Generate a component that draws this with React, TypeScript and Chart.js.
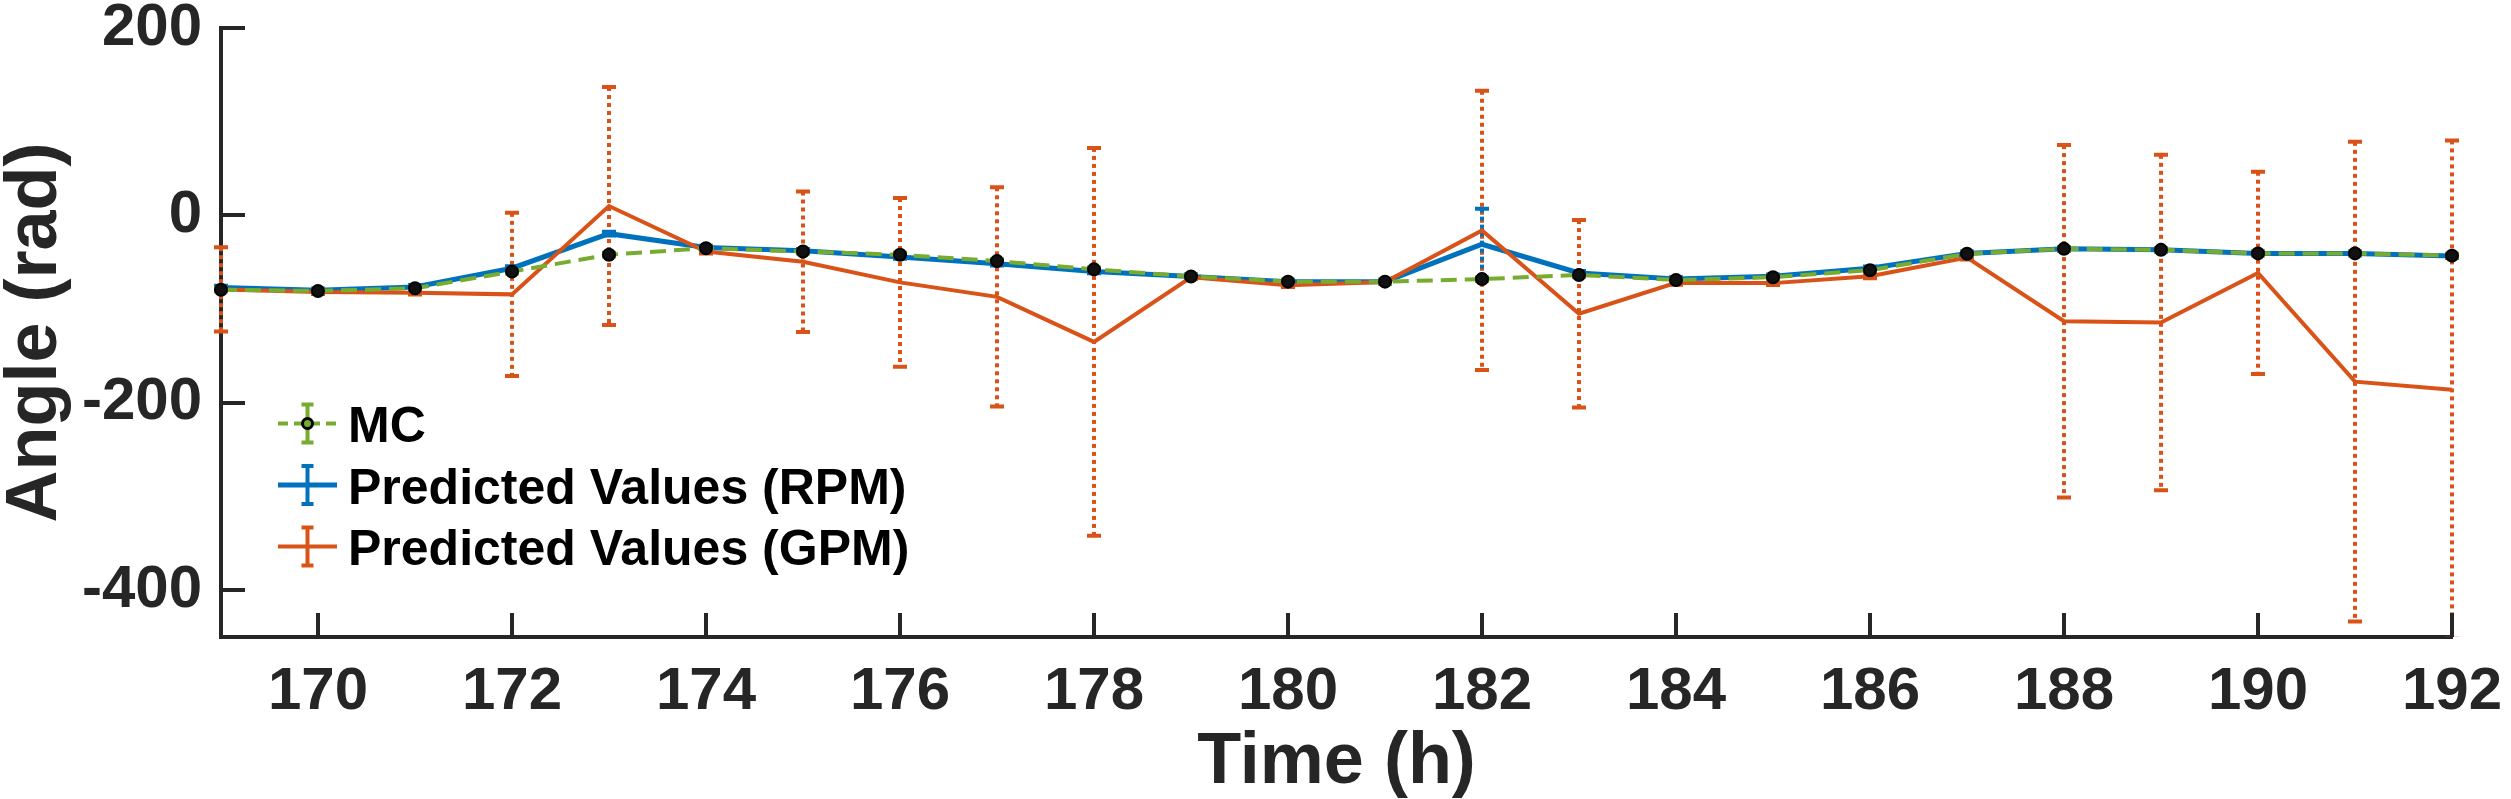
import React, { useEffect, useRef } from "react";
import { Chart, registerables } from "chart.js";

Chart.register(...registerables);

// ---- data ----
const hours = [169, 170, 171, 172, 173, 174, 175, 176, 177, 178, 179, 180, 181, 182, 183, 184, 185, 186, 187, 188, 189, 190, 191, 192];

const mcValues = [-79.3, -80.7, -77.8, -60, -42, -35, -38.6, -42, -48.8, -57.6, -65.2, -70.7, -70.7, -68, -63.6, -69, -66, -58.5, -41, -35.7, -36.8, -40.6, -40.6, -43];
const mcErrors = [2, 2, 2, 2, 2, 2, 2, 2, 2, 2, 2, 2, 2, 2, 2, 2, 2, 2, 2, 2, 2, 2, 2, 2];

const rpmValues = [-77, -80, -76.4, -56.4, -19.5, -34.3, -37.8, -44.4, -51.5, -59.8, -65.2, -70.7, -70.7, -30.8, -61.4, -68, -65, -56.5, -40.6, -35.7, -36.8, -40.6, -40.6, -43.4];
const rpmErrors = [2, 2, 2, 2, 2, 2, 2, 2, 2, 2, 2, 2, 2, 38, 2, 2, 2, 2, 2, 2, 2, 2, 2, 2];

const gpmValues = [-79, -81.8, -82.5, -84.3, 10, -38.6, -49.5, -71.5, -87, -135, -66, -74.5, -71, -16, -105, -72, -72.3, -65, -45, -113, -114.4, -61.4, -177.5, -186];
const gpmErrors = [45, 2, 2, 87, 127, 2, 75, 90, 117, 207, 2, 2, 2, 149, 100, 2, 2, 2, 2, 188, 179, 108, 256, 266];

const xTickValues = [170, 172, 174, 176, 178, 180, 182, 184, 186, 188, 190, 192];
const yTickValues = [-400, -200, 0, 200];
const legendLabels = ["MC", "Predicted Values (RPM)", "Predicted Values (GPM)"];

const BLUE = "#0072BD";
const ORANGE = "#D95319";
const GREEN = "#77AC30";
const AXIS = "#262626";
const FONT = "'Liberation Sans', Arial, Helvetica, sans-serif";

const errorBarPlugin = {
  id: "errorBars",
  beforeDatasetsDraw(chart: any) {
    const { ctx, chartArea, scales } = chart;
    const xs = scales.x;
    const ys = scales.y;
    ctx.save();
    ctx.beginPath();
    ctx.rect(chartArea.left - 12, chartArea.top - 2, chartArea.right - chartArea.left + 24, chartArea.bottom - chartArea.top + 2);
    ctx.clip();
    const order = [2, 1, 0];
    for (const di of order) {
      const ds: any = chart.data.datasets[di];
      const errs: number[] = ds.errorValues;
      const vals: number[] = ds.rawValues;
      if (!errs) continue;
      for (let i = 0; i < hours.length; i++) {
        const e = errs[i];
        if (!e) continue;
        const x = xs.getPixelForValue(hours[i]);
        const yt = ys.getPixelForValue(vals[i] + e);
        const yb = ys.getPixelForValue(vals[i] - e);
        ctx.strokeStyle = ds.borderColor;
        ctx.lineWidth = 4;
        ctx.setLineDash(ds.errorDash);
        ctx.beginPath();
        ctx.moveTo(x, yt);
        ctx.lineTo(x, yb);
        ctx.stroke();
        ctx.setLineDash([]);
        ctx.lineWidth = 4;
        ctx.beginPath();
        ctx.moveTo(x - 7, yt);
        ctx.lineTo(x + 7, yt);
        ctx.moveTo(x - 7, yb);
        ctx.lineTo(x + 7, yb);
        ctx.stroke();
      }
    }
    ctx.restore();
  },
};

const inwardTicksPlugin = {
  id: "inwardTicks",
  afterDraw(chart: any) {
    const { ctx, chartArea, scales } = chart;
    ctx.save();
    ctx.strokeStyle = AXIS;
    ctx.lineWidth = 4;
    ctx.beginPath();
    for (const v of xTickValues) {
      const x = Math.round(scales.x.getPixelForValue(v));
      ctx.moveTo(x, chartArea.bottom);
      ctx.lineTo(x, chartArea.bottom - 24);
    }
    for (const v of yTickValues) {
      const y = Math.round(scales.y.getPixelForValue(v));
      ctx.moveTo(chartArea.left, y);
      ctx.lineTo(chartArea.left + 24, y);
    }
    ctx.stroke();
    ctx.restore();
  },
};

const legendPlugin = {
  id: "customLegend",
  afterDraw(chart: any) {
    const { ctx, chartArea } = chart;
    const x0 = chartArea.left + 57;
    const x1 = x0 + 59;
    const xc = (x0 + x1) / 2;
    const textX = chartArea.left + 127;
    const baselines = [414, 475.5, 537];
    const colors = [GREEN, BLUE, ORANGE];
    ctx.save();
    baselines.forEach((b, i) => {
      const by = chartArea.top + b;
      const cy = by - 18.5;
      const c = colors[i];
      ctx.strokeStyle = c;
      ctx.lineWidth = i === 1 ? 5 : 4;
      ctx.setLineDash(i === 0 ? [10, 6] : []);
      ctx.beginPath();
      ctx.moveTo(x0, cy);
      ctx.lineTo(x1, cy);
      ctx.stroke();
      ctx.setLineDash([]);
      ctx.lineWidth = 4;
      ctx.beginPath();
      ctx.moveTo(xc, cy - 19);
      ctx.lineTo(xc, cy + 19);
      ctx.moveTo(xc - 6, cy - 19);
      ctx.lineTo(xc + 6, cy - 19);
      ctx.moveTo(xc - 6, cy + 19);
      ctx.lineTo(xc + 6, cy + 19);
      ctx.stroke();
      if (i === 0) {
        ctx.beginPath();
        ctx.arc(xc, cy, 5, 0, Math.PI * 2);
        ctx.fillStyle = GREEN;
        ctx.fill();
        ctx.lineWidth = 3;
        ctx.strokeStyle = "#000";
        ctx.stroke();
      }
      ctx.fillStyle = "#000";
      ctx.font = `bold 50px ${FONT}`;
      ctx.textBaseline = "alphabetic";
      ctx.textAlign = "left";
      ctx.fillText(legendLabels[i], textX, by);
    });
    ctx.restore();
  },
};

export default function App() {
  const ref = useRef<HTMLCanvasElement>(null);

  useEffect(() => {
    const canvas = ref.current;
    if (!canvas) return;
    const mk = (vals: number[]) => hours.map((h, i) => ({ x: h, y: vals[i] }));
    const chart = new Chart(canvas, {
      type: "line",
      data: {
        datasets: [
          {
            label: legendLabels[0],
            data: mk(mcValues),
            borderColor: GREEN,
            borderWidth: 4,
            borderDash: [16, 8],
            pointRadius: 6,
            pointBackgroundColor: "#111",
            pointBorderColor: "#000",
            pointBorderWidth: 2,
            order: 0,
            clip: false,
            tension: 0,
            errorValues: mcErrors,
            rawValues: mcValues,
            errorDash: [],
          } as any,
          {
            label: legendLabels[1],
            data: mk(rpmValues),
            borderColor: BLUE,
            borderWidth: 5,
            pointRadius: 0,
            order: 2,
            clip: false,
            tension: 0,
            errorValues: rpmErrors,
            rawValues: rpmValues,
            errorDash: [4, 4],
          } as any,
          {
            label: legendLabels[2],
            data: mk(gpmValues),
            borderColor: ORANGE,
            borderWidth: 4,
            pointRadius: 0,
            order: 1,
            clip: false,
            tension: 0,
            errorValues: gpmErrors,
            rawValues: gpmValues,
            errorDash: [4, 4],
          } as any,
        ],
      },
      options: {
        responsive: false,
        animation: false,
        devicePixelRatio: 1,
        layout: { padding: { top: 28, right: 59, bottom: 0, left: 0 } },
        plugins: { legend: { display: false }, tooltip: { enabled: false } },
        scales: {
          x: {
            type: "linear",
            min: 169,
            max: 192,
            grid: { display: false, drawTicks: false },
            border: { display: true, color: AXIS, width: 4 },
            ticks: {
              font: { family: FONT, size: 60, weight: "bold", lineHeight: 1.2 },
              color: AXIS,
              padding: 19,
              maxRotation: 0,
              autoSkip: false,
            },
            title: {
              display: true,
              text: "Time (h)",
              font: { family: FONT, size: 72, weight: "bold", lineHeight: 1 },
              color: AXIS,
              padding: 0,
            },
            afterBuildTicks: (s: any) => {
              s.ticks = xTickValues.map((v) => ({ value: v }));
            },
            afterFit: (s: any) => {
              s.height = 162;
              s.paddingLeft = 0;
              s.paddingRight = 0;
            },
          },
          y: {
            type: "linear",
            min: -450,
            max: 200,
            grid: { display: false, drawTicks: false },
            border: { display: true, color: AXIS, width: 4 },
            ticks: {
              font: { family: FONT, size: 60, weight: "bold", lineHeight: 1.2 },
              color: AXIS,
              padding: 19,
            },
            title: {
              display: true,
              text: "Angle (rad)",
              font: { family: FONT, size: 72, weight: "bold", lineHeight: 1 },
              color: AXIS,
              padding: 0,
            },
            afterBuildTicks: (s: any) => {
              s.ticks = yTickValues.map((v) => ({ value: v }));
            },
            afterFit: (s: any) => {
              s.width = 221;
              s.paddingTop = 0;
              s.paddingBottom = 0;
            },
          },
        },
      } as any,
      plugins: [errorBarPlugin, inwardTicksPlugin, legendPlugin],
    });
    return () => chart.destroy();
  }, []);

  return (
    <div style={{ position: "fixed", left: 0, top: 0, width: 2511, height: 799, background: "#fff" }}>
      <canvas ref={ref} width={2511} height={799} style={{ display: "block", width: 2511, height: 799 }} />
    </div>
  );
}
